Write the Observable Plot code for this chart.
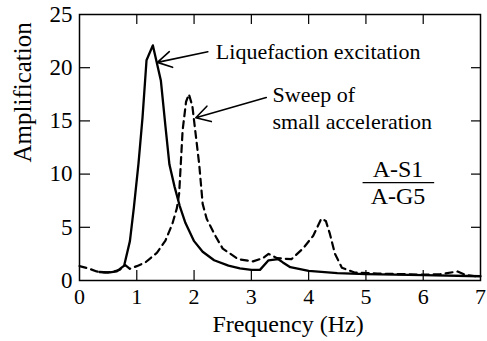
<!DOCTYPE html>
<html><head><meta charset="utf-8">
<script src="https://cdn.jsdelivr.net/npm/d3@7"></script>
<script src="https://cdn.jsdelivr.net/npm/@observablehq/plot@0.6"></script>
<style>body{margin:0;background:#fff} svg text{font-family:"Liberation Serif","Times New Roman",serif !important;}</style>
</head><body><div id="chart"></div>
<script>
// Liquefaction excitation (solid)
const liqFreq = [0.35,0.5,0.65,0.78,0.88,0.95,1.03,1.10,1.17,1.28,1.42,1.50,1.57,1.66,1.75,1.85,2.0,2.15,2.35,2.6,2.8,3.0,3.15,3.3,3.47,3.55,3.68,4.0,4.5,5.0,6.0,7.0];
const liqAmp  = [0.8,0.75,0.85,1.4,3.7,6.9,11,15.3,20.7,22.1,18.8,14.5,10.9,8.8,7.0,5.4,3.7,2.7,1.9,1.4,1.15,1.0,1.0,1.9,2.0,1.7,1.25,0.9,0.7,0.6,0.5,0.4];
// Sweep of small acceleration (dashed)
const swpFreq = [0,0.15,0.3,0.45,0.6,0.7,0.8,0.88,1.0,1.15,1.35,1.5,1.62,1.7,1.74,1.8,1.86,1.91,1.97,2.09,2.15,2.22,2.36,2.5,2.77,3.03,3.2,3.3,3.45,3.7,3.9,4.08,4.22,4.3,4.37,4.46,4.58,4.8,5.2,5.6,6.0,6.3,6.6,6.75,7.0];
const swpAmp  = [1.35,1.15,0.85,0.75,0.85,1.0,1.45,1.1,1.35,1.7,2.6,3.75,5.3,6.8,8.2,14.1,16.8,17.5,16.4,10.9,7.2,5.8,4.3,3.0,2.0,1.8,2.1,2.5,2.1,2.0,3.0,4.2,5.8,5.6,4.4,2.5,1.2,0.75,0.65,0.6,0.55,0.6,0.85,0.5,0.35];

const xTicks = [0,1,2,3,4,5,6,7];
const yTicks = [0,5,10,15,20,25];
const xLabel = "Frequency (Hz)";
const yLabel = "Amplification";

// annotations (data units)
const labels = [
  {x: 2.38, y: 21.5, text: "Liquefaction excitation"},
  {x: 3.37, y: 17.4, text: "Sweep of"},
  {x: 3.37, y: 14.9, text: "small acceleration"}
];
const arrows = [
  {x1: 2.24, y1: 21.5, x2: 1.36, y2: 20.5},
  {x1: 3.26, y1: 17.2, x2: 2.03, y2: 15.3}
];
const fracTop = {x: 5.56, y: 10.47, text: "A-S1"};
const fracBot = {x: 5.56, y: 7.9, text: "A-G5"};
const fracLine = {x1: 4.95, x2: 6.2, y: 9.2};

const liq = liqFreq.map((f,i)=>({f, a: liqAmp[i]}));
const swp = swpFreq.map((f,i)=>({f, a: swpAmp[i]}));

const W = 487, H = 341, mL = 79, mR = 7, mT = 14, mB = 61;
const pw = W - mL - mR, ph = H - mT - mB;
const T = 10;
const font = '"Liberation Serif", "Times New Roman", serif';

const chart = Plot.plot({
  width: W, height: H,
  marginLeft: mL, marginRight: mR, marginTop: mT, marginBottom: mB,
  style: {fontFamily: font, background: "white", color: "black"},
  x: {domain: [0,7]},
  y: {domain: [0,25]},
  marks: [
    Plot.frame({stroke: "black", strokeWidth: 1.5}),
    Plot.tickX(xTicks.slice(1,-1), {x: d=>d, insetTop: ph - T, stroke: "black", strokeWidth: 1.2}),
    Plot.tickX(xTicks.slice(1,-1), {x: d=>d, insetBottom: ph - T, stroke: "black", strokeWidth: 1.2}),
    Plot.tickY(yTicks.slice(1,-1), {y: d=>d, insetRight: pw - T - 1, stroke: "black", strokeWidth: 1.2}),
    Plot.tickY(yTicks.slice(1,-1), {y: d=>d, insetLeft: pw - T + 1, stroke: "black", strokeWidth: 1.2}),
    Plot.axisX({ticks: xTicks, tickSize: 0, tickPadding: 8, label: null, fontSize: 22, fontFamily: font, tickFormat: d=>String(d)}),
    Plot.axisY({ticks: yTicks, tickSize: 0, tickPadding: 7, label: null, fontSize: 23, fontFamily: font, tickFormat: d=>String(d)}),
    Plot.text([xLabel], {frameAnchor: "bottom", dx: 8, dy: 44, fontSize: 24, fontFamily: font, text: d=>d, lineAnchor: "middle"}),
    Plot.text([yLabel], {frameAnchor: "left", rotate: -90, dx: -57, dy: 15, fontSize: 25, fontFamily: font, text: d=>d, lineAnchor: "middle"}),
    Plot.line(swp, {x: "f", y: "a", stroke: "black", strokeWidth: 2.2, strokeDasharray: "7,5"}),
    Plot.line(liq, {x: "f", y: "a", stroke: "black", strokeWidth: 2.3}),
    Plot.arrow(arrows, {x1: "x1", y1: "y1", x2: "x2", y2: "y2", stroke: "black", strokeWidth: 1.6, headLength: 15}),
    Plot.text(labels, {x: "x", y: "y", text: "text", textAnchor: "start", fontSize: 22, fontFamily: font, lineAnchor: "middle"}),
    Plot.text([fracTop, fracBot], {x: "x", y: "y", text: "text", fontSize: 24, fontFamily: font, lineAnchor: "middle"}),
    Plot.ruleY([fracLine], {x1: "x1", x2: "x2", y: "y", stroke: "black", strokeWidth: 1.3})
  ]
});
document.getElementById("chart").appendChild(chart);
</script>
</body></html>
